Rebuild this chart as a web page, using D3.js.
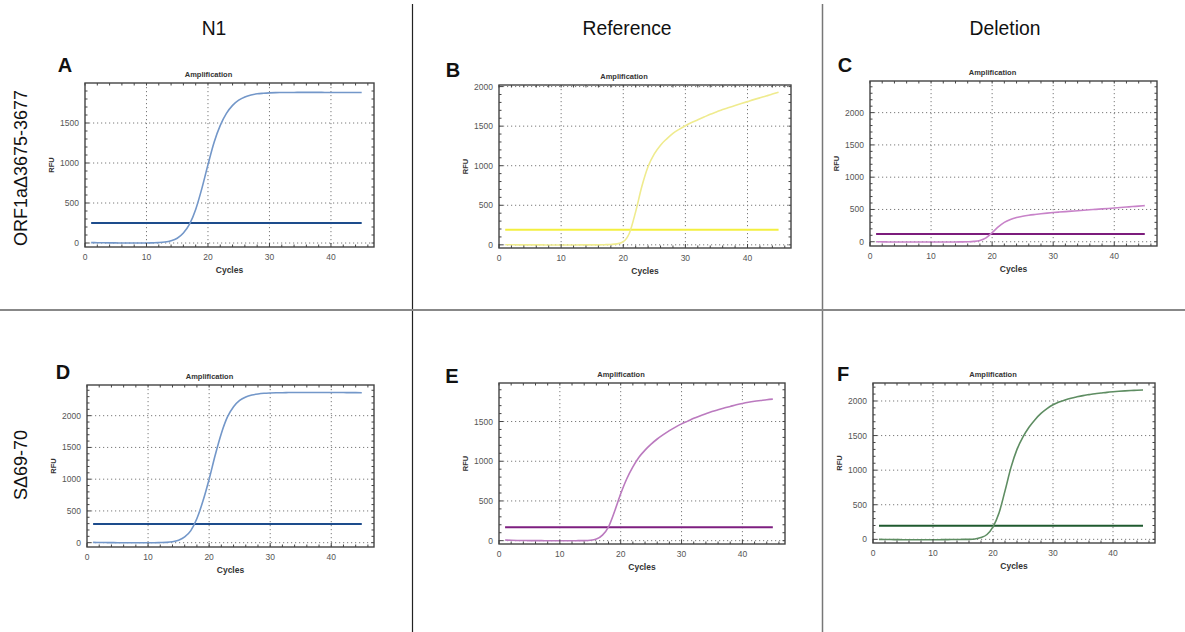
<!DOCTYPE html>
<html>
<head>
<meta charset="utf-8">
<script src="https://cdn.jsdelivr.net/npm/d3@7"></script>
<style>
  body { margin: 0; background: #fff; }
  svg text { font-family: "Liberation Sans", Arial, sans-serif; }
</style>
</head>
<body>
<svg id="fig" width="1185" height="632"></svg>
<script>
/* data: RFU per cycle, cycles 1..45 */
var cycles = d3.range(1, 46);

var n1Orf = [5, 4, 3, 2, 1, 0, 0, 0, 0, 0, 2, 5, 12, 28, 60, 125, 235, 420, 680, 980,
  1260, 1470, 1620, 1720, 1785, 1825, 1850, 1865, 1872, 1877, 1880, 1881, 1882, 1882, 1883,
  1883, 1883, 1883, 1882, 1882, 1882, 1882, 1881, 1881, 1881];
var refOrf = [2, 1, 0, 0, -1, -1, -1, -2, -2, -2, -2, -2, -1, -1, 0, 0, 2, 5, 12, 40,
  150, 420, 740, 990, 1150, 1260, 1340, 1410, 1460, 1505, 1545, 1580, 1615, 1650, 1680,
  1710, 1735, 1760, 1785, 1810, 1835, 1858, 1880, 1905, 1928];
var delOrf = [0, -2, -3, -4, -5, -5, -5, -5, -5, -5, -5, -4, -4, -3, -2, 0, 5, 20, 60, 140,
  230, 300, 345, 375, 395, 410, 422, 433, 443, 452, 460, 467, 474, 481, 488,
  495, 502, 509, 516, 523, 530, 537, 545, 552, 560];
var n1S = [5, 3, 2, 1, 0, 0, 0, 0, 0, 0, 0, 2, 5, 15, 40, 90, 190, 380, 660, 1000,
  1380, 1720, 1980, 2140, 2240, 2295, 2325, 2342, 2352, 2357, 2360, 2362, 2364, 2365, 2365,
  2366, 2366, 2366, 2365, 2365, 2364, 2364, 2363, 2363, 2362];
var refS = [8, 5, 3, 2, 1, 0, 0, -1, -1, -1, -1, -1, 0, 1, 5, 20, 70, 175, 370, 590,
  780, 930, 1050, 1140, 1215, 1280, 1335, 1385, 1430, 1470, 1505, 1540, 1570, 1598, 1625,
  1648, 1670, 1690, 1710, 1728, 1743, 1755, 1765, 1775, 1782];
var delS = [0, -2, -3, -4, -5, -5, -5, -5, -5, -5, -5, -4, -3, -2, -1, 0, 5, 25, 70, 180,
  380, 700, 1040, 1300, 1480, 1620, 1730, 1820, 1890, 1945, 1985, 2015, 2040, 2060, 2078,
  2092, 2105, 2115, 2125, 2133, 2140, 2146, 2151, 2155, 2160];

var thresholds = [250, 190, 120, 295, 170, 195];
var panelLetters = ["A", "B", "C", "D", "E", "F"];
var columnTitles = ["N1", "Reference", "Deletion"];
var rowTitles = ["ORF1a\u03943675-3677", "S\u039469-70"];
var xTicks = [0, 10, 20, 30, 40];
var yTicksA = [0, 500, 1000, 1500];
var yTicksB = [0, 500, 1000, 1500, 2000];
var yTicksE = [0, 500, 1000, 1500];

var series = [n1Orf, refOrf, delOrf, n1S, refS, delS];
var yTickSets = [yTicksA, yTicksB, yTicksB, yTicksB, yTicksE, yTicksB];

/* layout of each small plot (frame box + y range) */
var layout = [
  { l: 85,  r: 374,  t: 83,  b: 247, y0: -50, y1: 2000, lx: 65,  ly: 72 },
  { l: 499, r: 791,  t: 85,  b: 248, y0: -40, y1: 2020, lx: 453, ly: 77 },
  { l: 870, r: 1157, t: 81,  b: 246, y0: -66, y1: 2490, lx: 845, ly: 72 },
  { l: 87,  r: 374,  t: 385, b: 547, y0: -68, y1: 2483, lx: 63,  ly: 379 },
  { l: 499, r: 785,  t: 383, b: 544, y0: -42, y1: 1985, lx: 452, ly: 383 },
  { l: 873, r: 1155, t: 383, b: 543, y0: -53, y1: 2260, lx: 843, ly: 381 }
];
var curveColors = ["#7397c9", "#efeb8e", "#c883c9", "#7397c9", "#bb7abf", "#5e8d62"];
var threshColors = ["#1d4c8c", "#f3ef3f", "#7c1c7c", "#1d4c8c", "#7e1f80", "#1f5a2f"];

var svg = d3.select("#fig");

/* dividers */
svg.append("line").attr("x1", 412.5).attr("x2", 412.5).attr("y1", 4).attr("y2", 632)
  .attr("stroke", "#222").attr("stroke-width", 1.2);
svg.append("line").attr("x1", 822.5).attr("x2", 822.5).attr("y1", 4).attr("y2", 632)
  .attr("stroke", "#777").attr("stroke-width", 1.5);
svg.append("line").attr("x1", 0).attr("x2", 1185).attr("y1", 310).attr("y2", 310)
  .attr("stroke", "#888").attr("stroke-width", 2);

/* column and row titles */
var colX = [214, 627, 1005];
svg.selectAll(".coltitle").data(columnTitles).enter().append("text")
  .attr("x", function(d, i) { return colX[i]; })
  .attr("y", 35).attr("text-anchor", "middle")
  .attr("font-size", 21).attr("fill", "#111")
  .attr("transform", function(d, i) { return "translate(" + colX[i] * 0.08 + ",0) scale(0.92,1)"; })
  .text(function(d) { return d; });

var rowY = [168, 465];
svg.selectAll(".rowtitle").data(rowTitles).enter().append("text")
  .attr("transform", function(d, i) { return "translate(27," + rowY[i] + ") rotate(-90)"; })
  .attr("text-anchor", "middle")
  .attr("font-size", 18).attr("fill", "#111")
  .text(function(d) { return d; });

/* draw one amplification plot */
function drawPanel(i) {
  var L = layout[i];
  var data = series[i];
  var x = d3.scaleLinear().domain([0, 47]).range([L.l, L.r]);
  var y = d3.scaleLinear().domain([L.y0, L.y1]).range([L.b, L.t]);
  var g = svg.append("g");

  /* dotted grid */
  g.selectAll(".gx").data(xTicks.filter(function(d) { return d > 0; })).enter().append("line")
    .attr("x1", function(d) { return x(d); }).attr("x2", function(d) { return x(d); })
    .attr("y1", L.t).attr("y2", L.b)
    .attr("stroke", "#7a7a7a").attr("stroke-dasharray", "1.2,2.8").attr("stroke-width", 1);
  g.selectAll(".gy").data(yTickSets[i]).enter().append("line")
    .attr("x1", L.l).attr("x2", L.r)
    .attr("y1", function(d) { return y(d); }).attr("y2", function(d) { return y(d); })
    .attr("stroke", "#7a7a7a").attr("stroke-dasharray", "1.2,2.8").attr("stroke-width", 1);

  /* threshold line */
  g.append("line")
    .attr("x1", x(1)).attr("x2", x(45))
    .attr("y1", y(thresholds[i])).attr("y2", y(thresholds[i]))
    .attr("stroke", threshColors[i]).attr("stroke-width", 2);

  /* amplification curve */
  var line = d3.line()
    .x(function(d, k) { return x(cycles[k]); })
    .y(function(d) { return y(d); })
    .curve(d3.curveMonotoneX);
  g.append("path").datum(data)
    .attr("d", line)
    .attr("fill", "none")
    .attr("stroke", curveColors[i]).attr("stroke-width", 1.6);

  /* frame */
  g.append("rect")
    .attr("x", L.l).attr("y", L.t).attr("width", L.r - L.l).attr("height", L.b - L.t)
    .attr("fill", "none").attr("stroke", "#444").attr("stroke-width", 1.4);

  /* minor ticks, inward on all four sides */
  var xm = d3.range(0, 48, 2);
  var ym = d3.range(Math.ceil(L.y0 / 100) * 100, L.y1, 100);
  g.selectAll(".txb").data(xm).enter().append("line")
    .attr("x1", function(d) { return x(d); }).attr("x2", function(d) { return x(d); })
    .attr("y1", L.b).attr("y2", function(d) { return L.b - (d % 10 === 0 ? 4 : 2.5); })
    .attr("stroke", "#444");
  g.selectAll(".txt").data(xm).enter().append("line")
    .attr("x1", function(d) { return x(d); }).attr("x2", function(d) { return x(d); })
    .attr("y1", L.t).attr("y2", L.t + 2.5)
    .attr("stroke", "#444");
  g.selectAll(".tyl").data(ym).enter().append("line")
    .attr("y1", function(d) { return y(d); }).attr("y2", function(d) { return y(d); })
    .attr("x1", L.l).attr("x2", function(d) { return L.l + (d % 500 === 0 ? 4 : 2.5); })
    .attr("stroke", "#444");
  g.selectAll(".tyr").data(ym).enter().append("line")
    .attr("y1", function(d) { return y(d); }).attr("y2", function(d) { return y(d); })
    .attr("x1", L.r).attr("x2", L.r - 2.5)
    .attr("stroke", "#444");

  /* tick labels */
  g.selectAll(".lx").data(xTicks).enter().append("text")
    .attr("x", function(d) { return x(d); }).attr("y", L.b + 13)
    .attr("text-anchor", "middle").attr("font-size", 8.5).attr("fill", "#555")
    .text(function(d) { return d; });
  g.selectAll(".ly").data(yTickSets[i]).enter().append("text")
    .attr("x", L.l - 6).attr("y", function(d) { return y(d) + 3; })
    .attr("text-anchor", "end").attr("font-size", 8.5).attr("fill", "#555")
    .text(function(d) { return d; });

  /* titles */
  g.append("text")
    .attr("x", (L.l - 42 + L.r) / 2).attr("y", L.t - 6)
    .attr("text-anchor", "middle").attr("font-size", 7.5).attr("font-weight", "bold").attr("fill", "#333")
    .text("Amplification");
  g.append("text")
    .attr("x", (L.l + L.r) / 2).attr("y", L.b + 26)
    .attr("text-anchor", "middle").attr("font-size", 8.5).attr("font-weight", "bold").attr("fill", "#333")
    .text("Cycles");
  g.append("text")
    .attr("transform", "translate(" + (L.l - 31) + "," + ((L.t + L.b) / 2) + ") rotate(-90)")
    .attr("text-anchor", "middle").attr("font-size", 7.5).attr("font-weight", "bold").attr("fill", "#333")
    .text("RFU");

  /* panel letter */
  g.append("text")
    .attr("x", L.lx).attr("y", L.ly).attr("text-anchor", "middle")
    .attr("font-family", "'Open Sans', sans-serif")
    .attr("font-size", 20).attr("font-weight", "bold").attr("fill", "#111")
    .text(panelLetters[i]);
}

for (var p = 0; p < 6; p++) drawPanel(p);
</script>
</body>
</html>
